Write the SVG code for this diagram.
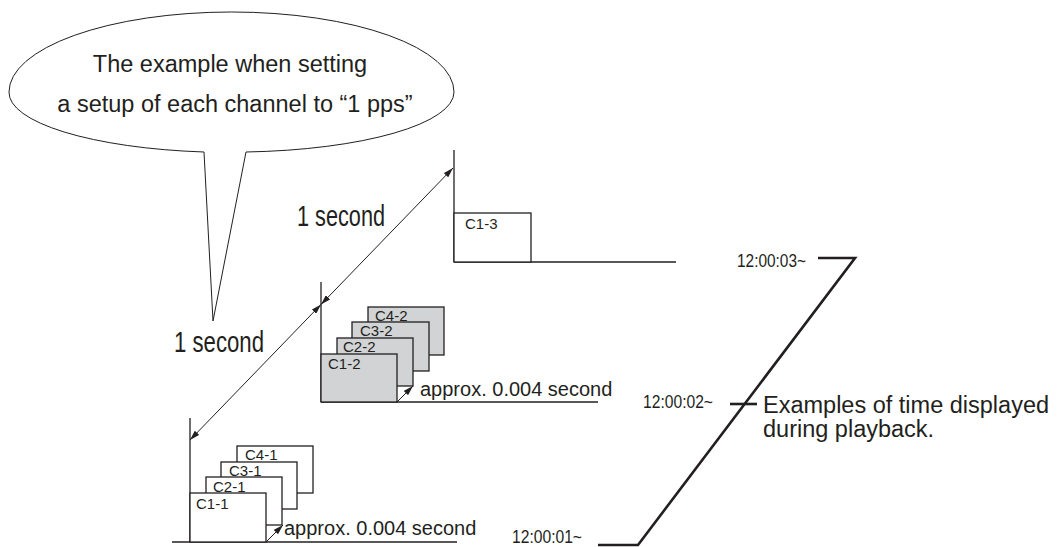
<svg xmlns="http://www.w3.org/2000/svg" width="1061" height="547" viewBox="0 0 1061 547">
<style>
text{font-family:"Liberation Sans",Arial,sans-serif;fill:#231f20}
.ln{stroke:#231f20;stroke-width:1.3;fill:none}
.thin{stroke:#231f20;stroke-width:1;fill:none}
.thick{stroke:#231f20;stroke-width:2.6;fill:none}
.box{stroke:#231f20;stroke-width:1.3;fill:#ffffff}
.gbox{stroke:#231f20;stroke-width:1.3;fill:#d1d3d4}
.lbl{font-size:15px}
.big{font-size:29px}
.ts{font-size:18px}
.ap{font-size:20px}
</style>
<defs>
<marker id="ah" viewBox="0 0 10 6" refX="10" refY="3" markerWidth="10" markerHeight="6" markerUnits="userSpaceOnUse" orient="auto-start-reverse">
<path d="M0,0 L10,3 L0,6 Z" fill="#231f20"/>
</marker>
</defs>
<rect width="1061" height="547" fill="#ffffff"/>

<g id="bubble">
<path class="thin" d="M 9,92 A 222.5 80 0 0 1 454,92 A 222.5 60 0 0 1 246,152 L 213,321 L 204,152 A 222.5 60 0 0 1 9,92 Z" style="fill:#ffffff"/>
<text x="230" y="72" font-size="23.5" text-anchor="middle">The example when setting</text>
<text x="235" y="112" font-size="23.5" text-anchor="middle">a setup of each channel to “1 pps”</text>
</g>

<g id="frame1">
<line class="ln" x1="190" y1="418" x2="190" y2="542"/>
<line class="ln" x1="172" y1="542" x2="457" y2="542"/>
<rect class="box" x="237" y="446" width="76" height="47"/>
<text class="lbl" x="245" y="460">C4-1</text>
<rect class="box" x="221" y="462" width="76" height="47"/>
<text class="lbl" x="229" y="476">C3-1</text>
<rect class="box" x="206" y="477" width="76" height="48"/>
<text class="lbl" x="213" y="492">C2-1</text>
<rect class="box" x="190" y="493" width="76" height="49"/>
<text class="lbl" x="196" y="509">C1-1</text>
<text class="ap" x="284" y="535">approx. 0.004 second</text>
</g>

<g id="frame2">
<line class="ln" x1="321" y1="282" x2="321" y2="402"/>
<line class="ln" x1="321" y1="402" x2="598" y2="402"/>
<rect class="gbox" x="368" y="307" width="76" height="48"/>
<text class="lbl" x="375" y="321">C4-2</text>
<rect class="gbox" x="352" y="322" width="77" height="49"/>
<text class="lbl" x="360" y="336">C3-2</text>
<rect class="gbox" x="337" y="338" width="76" height="48"/>
<text class="lbl" x="343" y="352">C2-2</text>
<rect class="gbox" x="321" y="354" width="76" height="48"/>
<text class="lbl" x="328" y="369">C1-2</text>
<text class="ap" x="420" y="396">approx. 0.004 second</text>
</g>

<g id="frame3">
<line class="ln" x1="454" y1="150" x2="454" y2="262"/>
<line class="ln" x1="454" y1="262" x2="676" y2="262"/>
<rect class="box" x="454" y="213" width="77" height="49"/>
<text class="lbl" x="465" y="229">C1-3</text>
</g>

<g id="timeline">
<polyline class="thick" points="598,545 638,545 855,258 818,258"/>
<line class="thick" x1="730" y1="404" x2="757" y2="404"/>
<text class="ts" x="737" y="267" textLength="69" lengthAdjust="spacingAndGlyphs">12:00:03~</text>
<text class="ts" x="643" y="408" textLength="70" lengthAdjust="spacingAndGlyphs">12:00:02~</text>
<text class="ts" x="512" y="543" textLength="70" lengthAdjust="spacingAndGlyphs">12:00:01~</text>
<text x="763" y="413" font-size="23.5">Examples of time displayed</text>
<text x="763" y="437" font-size="23.5">during playback.</text>
</g>

<g id="labels">
<text class="big" x="297" y="226" textLength="88" lengthAdjust="spacingAndGlyphs">1 second</text>
<text class="big" x="174" y="352" textLength="90" lengthAdjust="spacingAndGlyphs">1 second</text>
</g>

<g id="connectors">
<line class="thin" x1="190" y1="440" x2="321" y2="304.5" marker-start="url(#ah)" marker-end="url(#ah)"/>
<line class="thin" x1="321" y1="304.5" x2="453" y2="168" marker-start="url(#ah)" marker-end="url(#ah)"/>
<line class="thin" x1="266" y1="542" x2="283" y2="525" marker-end="url(#ah)"/>
<line class="thin" x1="397" y1="402" x2="413" y2="386" marker-end="url(#ah)"/>
</g>
</svg>
